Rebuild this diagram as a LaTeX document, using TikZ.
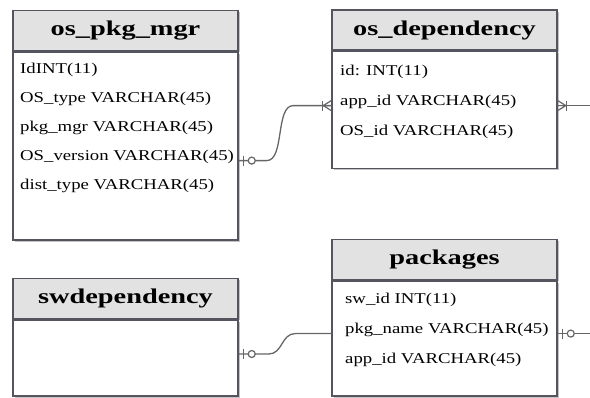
\documentclass[tikz,border=0pt]{standalone}
\usepackage{fontspec}
\setmainfont{Liberation Serif}
\newfontfamily\headfont[FakeStretch=1.35]{Liberation Serif}
\newfontfamily\rowfont[FakeStretch=1.25]{Liberation Serif}
\usetikzlibrary{positioning,calc,shadows}
\definecolor{tblborder}{HTML}{55555F}
\definecolor{headgray}{HTML}{E2E2E2}
\definecolor{linkgray}{HTML}{666666}
\tikzset{
  tblhead/.style={draw=tblborder, line width=1.5pt, fill=headgray,
    minimum width=225pt, minimum height=40pt, inner sep=0pt,
    drop shadow={shadow xshift=2pt, shadow yshift=-2pt, opacity=.35, fill=tblborder},
    font=\headfont\bfseries\fontsize{21}{23}\selectfont},
  tblbody/.style={draw=tblborder, line width=1.5pt, fill=white,
    minimum width=225pt, inner sep=0pt,
    drop shadow={shadow xshift=2pt, shadow yshift=-2pt, opacity=.35, fill=tblborder}},
  field/.style={anchor=west, inner sep=0pt, font=\rowfont\fontsize{15}{17}\selectfont},
  link/.style={draw=linkgray, line width=1.3pt},
  zeroone/.pic={
    \draw[linkgray, line width=1.2pt] (5,-5) -- (5,5);
    \draw[linkgray, line width=1.2pt, fill=white] (13,0) circle (3.5pt);
  },
  onemany/.pic={
    \draw[linkgray, line width=1.2pt] (0,-5) -- (8,0) (0,0) -- (8,0) (0,5) -- (8,0);
    \draw[linkgray, line width=1.2pt] (9,-5) -- (9,5);
  }
}
\begin{document}
\begin{tikzpicture}[x=1pt, y=-1pt]
  \useasboundingbox (0,0) rectangle (590,398);
  \coordinate (rim) at (590,0);

  % tables
  \node (pkgmgr) at (125.5,30.5) [tblhead] {os\_pkg\_mgr};
  \node (pkgmgr-body) [tblbody, minimum height=188pt, below=0pt of pkgmgr] {};
  \node (osdep) at (444.5,30) [tblhead] {os\_dependency};
  \node (osdep-body) [tblbody, minimum height=117pt, below=0pt of osdep] {};
  \node (swdep) at (125.5,298.5) [tblhead] {swdependency};
  \node (swdep-body) [tblbody, minimum height=76pt, below=0pt of swdep] {};
  \node (pkgs) at (444.5,259.5) [tblhead] {packages};
  \node (pkgs-body) [tblbody, minimum height=115pt, below=0pt of pkgs] {};

  % fields
  \node (pkgmgr-id) at (20,70) [field] {IdINT(11)};
  \node (pkgmgr-ostype) at (20,99) [field] {OS\_type VARCHAR(45)};
  \node (pkgmgr-mgr) at (20,128) [field] {pkg\_mgr VARCHAR(45)};
  \node (pkgmgr-osver) at (20,157) [field] {OS\_version VARCHAR(45)};
  \node (pkgmgr-dist) at (20,186) [field] {dist\_type VARCHAR(45)};
  \node (osdep-id) at (340,72) [field] {id: INT(11)};
  \node (osdep-appid) at (340,102) [field] {app\_id VARCHAR(45)};
  \node (osdep-osid) at (340,132) [field] {OS\_id VARCHAR(45)};
  \node (pkgs-swid) at (345,300) [field] {sw\_id INT(11)};
  \node (pkgs-name) at (345,330) [field] {pkg\_name VARCHAR(45)};
  \node (pkgs-appid) at (345,360) [field] {app\_id VARCHAR(45)};

  % link ends
  \coordinate (osver-link) at (pkgmgr-body.east |- pkgmgr-osver.base);
  \coordinate (appid-left) at (osdep-body.west |- osdep-appid.base);
  \coordinate (appid-right) at (osdep-body.east |- osdep-appid.base);
  \coordinate (swdep-link) at ([yshift=4pt]swdep-body.east);
  \coordinate (name-left) at (pkgs-body.west |- pkgs-name.base);
  \coordinate (name-right) at (pkgs-body.east |- pkgs-name.base);

  % links
  \draw[link] (osver-link) -- ++(28,0)
    .. controls +(18,0) and +(-18,0) .. ($(appid-left)+(-38,0)$) -- (appid-left);
  \draw[link] (swdep-link) -- ++(30,0)
    .. controls +(14,0) and +(-14,0) .. ($(name-left)+(-36,0)$) -- (name-left);
  \draw[link] (appid-right) -- (appid-right -| rim);
  \draw[link] (name-right) -- (name-right -| rim);

  \pic at (osver-link) {zeroone};
  \pic at (swdep-link) {zeroone};
  \pic at (name-right) {zeroone};
  \pic[rotate=180] at (appid-left) {onemany};
  \pic at (appid-right) {onemany};
\end{tikzpicture}
\end{document}
